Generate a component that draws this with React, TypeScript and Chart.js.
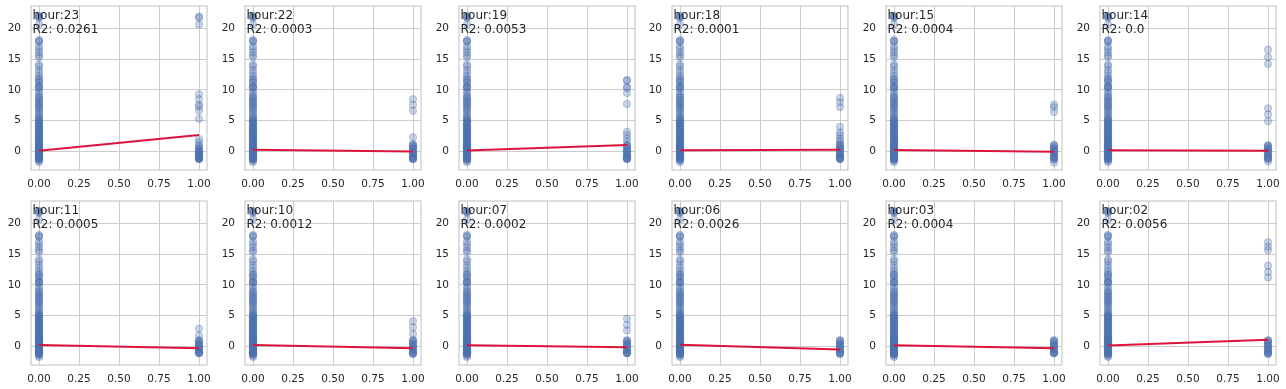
import React, { useEffect, useRef } from "react";
import { Chart, registerables } from "chart.js";

Chart.register(...registerables);

const hours = ["23", "22", "19", "18", "15", "14", "11", "10", "07", "06", "03", "02"];
const r2Labels = ["0.0261", "0.0003", "0.0053", "0.0001", "0.0004", "0.0", "0.0005", "0.0012", "0.0002", "0.0026", "0.0004", "0.0056"];

// values of the group x = 0 (other hours)
const groupZeroValues = [
  22.0, 21.9, 21.8, 21.7, 20.6, 18.1, 17.9, 17.8, 17.0, 16.6, 16.1, 15.6, 15.3, 14.1, 13.8, 13.2, 12.7,
  12.2, 11.8, 11.6, 11.4, 11.1, 10.6, 10.5, 10.4, 10.3, 9.8, 9.4, 9.0, 8.8, 8.6, 8.3, 8.1, 7.9, 7.6,
  7.4, 7.2, 7.0, 6.7, 6.4, 6.1, 5.8, 5.5, 5.3, 5.1, 4.9, 4.7, 4.5, 4.3, 4.1, 3.9, 3.7, 3.5, 3.3, 3.1,
  2.9, 2.7, 2.5, 2.3, 2.1, 1.9, 1.7, 1.5, 1.3, 1.1, 1.0, 0.9, 0.7, 0.5, 0.4, 0.3, 0.1, 0.0, -0.1,
  -0.3, -0.4, -0.5, -0.7, -0.9, -1.0, -1.1, -1.2, -1.3, -1.5, -1.7,
  5.0, 4.6, 4.2, 3.8, 3.4, 3.0, 2.6, 2.2, 1.8, 1.4, 1.2, 0.8, 0.6, 0.2, -0.2, -0.6, -0.8, -1.0, -1.2,
];

// values of the group x = 1 (this hour), one list per panel
const h23 = [21.9, 21.7, 20.6, 9.3, 8.5, 7.6, 7.3, 6.6, 5.3, 2.0, 1.5, 1.0, 0.8, 0.5, 0.3, 0.2, 0.0, 0.0, -0.2, -0.3, -0.5, -0.6, -0.8, -0.9, -1.0, -1.0, -1.1, -1.2, -1.2, -1.2];
const h22 = [8.5, 7.6, 6.6, 2.3, 1.2, 1.0, 1.0, 0.8, 0.5, 0.5, 0.3, 0.0, 0.0, -0.2, -0.3, -0.5, -0.5, -0.8, -0.9, -1.0, -1.0, -1.2, -1.2, -1.2];
const h19 = [11.6, 11.5, 10.5, 10.3, 9.5, 7.7, 3.2, 2.7, 2.1, 1.6, 1.0, 1.0, 0.8, 0.5, 0.5, 0.2, 0.0, 0.0, -0.3, -0.5, -0.6, -0.9, -1.0, -1.0, -1.2, -1.2, -1.2];
const h18 = [8.7, 8.0, 7.2, 4.0, 3.1, 2.6, 2.1, 1.7, 1.3, 1.0, 1.0, 0.8, 0.5, 0.5, 0.2, 0.0, 0.0, -0.3, -0.5, -0.6, -0.9, -1.0, -1.0, -1.2, -1.2, -1.2];
const h15 = [7.6, 7.2, 6.4, 1.1, 1.0, 0.8, 0.5, 0.5, 0.2, 0.0, 0.0, -0.3, -0.5, -0.6, -0.9, -1.0, -1.0, -1.2, -1.3, -1.8];
const h14 = [16.5, 15.3, 14.2, 7.0, 6.0, 4.9, 1.0, 1.0, 0.8, 0.5, 0.5, 0.2, 0.0, 0.0, -0.3, -0.5, -0.6, -0.9, -1.0, -1.0, -1.2, -1.2, -1.6];
const h11 = [2.9, 1.8, 1.0, 1.0, 0.8, 0.5, 0.5, 0.2, 0.0, 0.0, -0.3, -0.5, -0.6, -0.9, -1.0, -1.0, -1.1, -1.1];
const h10 = [4.1, 3.1, 2.0, 1.0, 1.0, 0.8, 0.5, 0.5, 0.2, 0.0, 0.0, -0.3, -0.5, -0.6, -0.9, -1.0, -1.0, -1.2, -1.2];
const h07 = [4.5, 3.5, 2.6, 1.0, 1.0, 0.8, 0.5, 0.5, 0.2, 0.0, 0.0, -0.3, -0.5, -0.6, -0.9, -1.0, -1.0, -1.1, -1.1];
const h06 = [1.0, 1.0, 0.8, 0.5, 0.5, 0.2, 0.0, 0.0, -0.3, -0.5, -0.6, -0.9, -1.0, -1.0, -1.2, -1.2];
const h03 = [1.0, 1.0, 0.8, 0.5, 0.5, 0.2, 0.0, 0.0, -0.3, -0.5, -0.6, -0.9, -1.0, -1.0, -1.1, -1.1];
const h02 = [16.9, 16.2, 15.6, 13.1, 12.1, 11.2, 1.0, 1.0, 0.8, 0.5, 0.5, 0.2, 0.0, 0.0, -0.3, -0.5, -0.6, -0.9, -1.0, -1.0, -1.2, -1.2];
const groupOneValues = [h23, h22, h19, h18, h15, h14, h11, h10, h07, h06, h03, h02];

// regression line: value at x = 0 and at x = 1
const lineStart = [0.12, 0.3, 0.15, 0.2, 0.25, 0.2, 0.25, 0.25, 0.2, 0.3, 0.2, 0.15];
const lineEnd = [2.67, 0.02, 1.05, 0.3, -0.05, 0.12, -0.3, -0.3, -0.12, -0.5, -0.3, 1.1];

const xTicks = [0, 0.25, 0.5, 0.75, 1];
const yTicks = [0, 5, 10, 15, 20];

const BLUE_A = "rgba(76,114,176,0.3)";
const CELL_W = 213.8;
const CELL_H = 195;
const CANVAS_W = 214;

function zeroPad(s: any) {
  s.paddingTop = 0;
  s.paddingBottom = 0;
  s.paddingLeft = 0;
  s.paddingRight = 0;
}

function Panel({ idx }: { idx: number }) {
  const ref = useRef<HTMLCanvasElement | null>(null);
  useEffect(() => {
    if (!ref.current) return;
    const pts0 = groupZeroValues.map((v) => ({ x: 0, y: v }));
    const pts1 = groupOneValues[idx].map((v) => ({ x: 1, y: v }));
    const textPlugin = {
      id: "panelText" + idx,
      afterDatasetsDraw(chart: any) {
        const { ctx, chartArea } = chart;
        ctx.save();
        ctx.strokeStyle = "#cccccc";
        ctx.lineWidth = 1.25;
        ctx.strokeRect(chartArea.left, chartArea.top, chartArea.right - chartArea.left, chartArea.bottom - chartArea.top);
        ctx.fillStyle = "#262626";
        ctx.font = "12px 'DejaVu Sans'";
        ctx.textBaseline = "alphabetic";
        ctx.textAlign = "left";
        ctx.fillText("hour:" + hours[idx], chartArea.left + 1.5, 18.7);
        ctx.fillText("R2: " + r2Labels[idx], chartArea.left + 1.5, 33.3);
        ctx.restore();
      },
    };
    const chart = new Chart(ref.current, {
      type: "scatter",
      data: {
        datasets: [
          {
            type: "line",
            data: [
              { x: 0, y: lineStart[idx] },
              { x: 1, y: lineEnd[idx] },
            ],
            borderColor: "#dc143c",
            borderWidth: 2,
            pointRadius: 0,
            order: 0,
          } as any,
          {
            data: [...pts0, ...pts1],
            backgroundColor: BLUE_A,
            borderColor: BLUE_A,
            borderWidth: 1,
            pointRadius: 3.7,
            order: 1,
          },
        ],
      },
      options: {
        responsive: false,
        animation: false,
        layout: { padding: { top: 6, right: CANVAS_W - 31 - 176, left: 0, bottom: 0 } },
        plugins: { legend: { display: false }, tooltip: { enabled: false } },
        scales: {
          x: {
            type: "linear",
            min: -0.05,
            max: 1.05,
            afterBuildTicks: (s: any) => {
              s.ticks = xTicks.map((v) => ({ value: v }));
            },
            afterFit: (s: any) => {
              s.height = 25;
              zeroPad(s);
            },
            grid: { color: "#cccccc", lineWidth: 1, drawTicks: false },
            border: { display: false },
            ticks: {
              color: "#262626",
              font: { family: "'DejaVu Sans'", size: 10.5 },
              padding: 8,
              maxRotation: 0,
              autoSkip: false,
              callback: (v: any) => Number(v).toFixed(2),
            },
          },
          y: {
            type: "linear",
            min: -3.0,
            max: 23.6,
            afterBuildTicks: (s: any) => {
              s.ticks = yTicks.map((v) => ({ value: v }));
            },
            afterFit: (s: any) => {
              s.width = 31;
              zeroPad(s);
            },
            grid: { color: "#cccccc", lineWidth: 1, drawTicks: false },
            border: { display: false },
            ticks: {
              color: "#262626",
              font: { family: "'DejaVu Sans'", size: 10.5 },
              padding: 10,
              autoSkip: false,
              callback: (v: any) => String(v),
            },
          },
        },
      },
      plugins: [textPlugin],
    } as any);
    return () => chart.destroy();
  }, [idx]);
  const r = Math.floor(idx / 6);
  const c = idx % 6;
  return (
    <canvas
      ref={ref}
      width={CANVAS_W}
      height={CELL_H}
      style={{ position: "absolute", left: Math.round(c * CELL_W), top: r * CELL_H, width: CANVAS_W, height: CELL_H }}
    />
  );
}

export default function App() {
  return (
    <div style={{ position: "absolute", left: 0, top: 0, width: 1286, height: 389, background: "#ffffff" }}>
      {hours.map((_, i) => (
        <Panel key={i} idx={i} />
      ))}
    </div>
  );
}
